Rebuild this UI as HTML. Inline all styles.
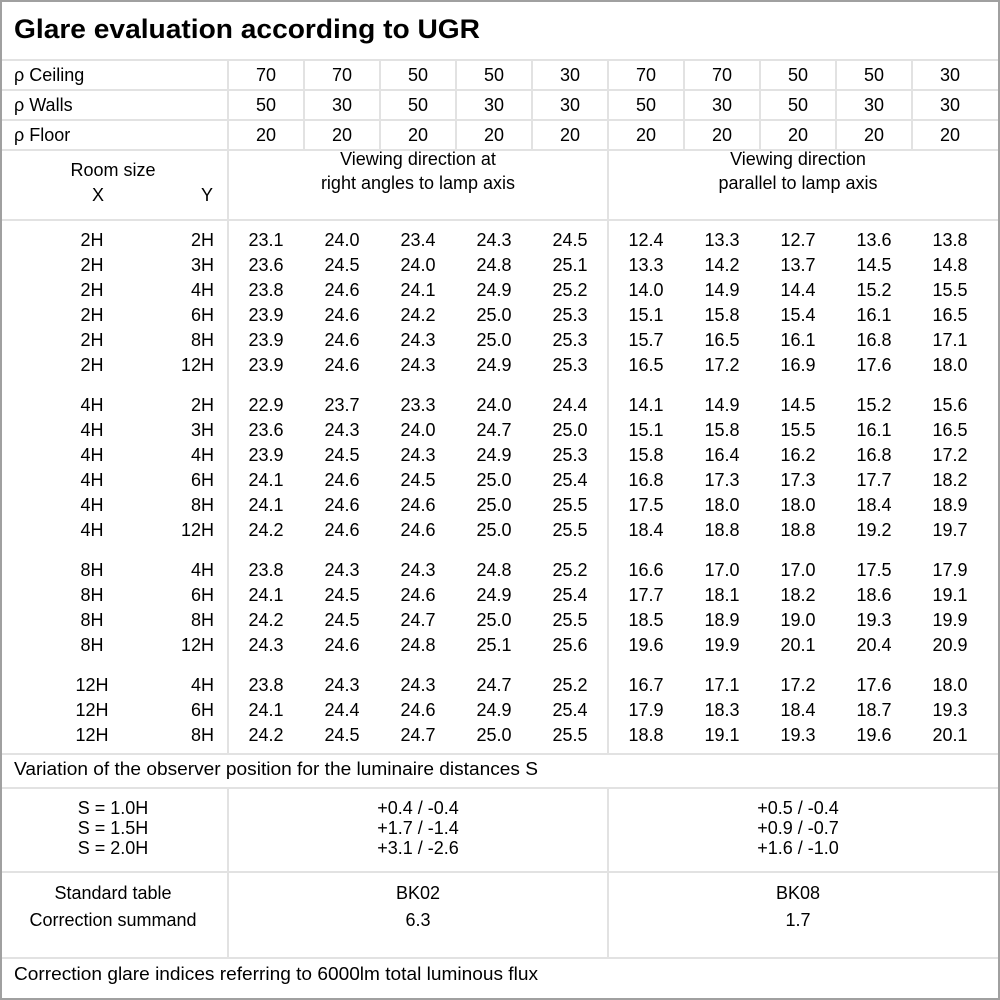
<!DOCTYPE html>
<html><head><meta charset="utf-8"><style>
html,body{margin:0;padding:0;background:#fff;width:1000px;height:1000px;overflow:hidden}
svg text{font-family:"Liberation Sans","DejaVu Sans",sans-serif;font-size:18px;fill:#000}
.c{text-anchor:middle}.r{text-anchor:end}
</style></head><body>
<svg width="1000" height="1000" xmlns="http://www.w3.org/2000/svg">
<rect x="0" y="0" width="1000" height="1000" fill="#fff"/>
<g stroke="#e2e2e2" stroke-width="2">
<line x1="0" y1="60" x2="1000" y2="60"/>
<line x1="0" y1="90" x2="1000" y2="90"/>
<line x1="0" y1="120" x2="1000" y2="120"/>
<line x1="0" y1="150" x2="1000" y2="150"/>
<line x1="0" y1="220" x2="1000" y2="220"/>
<line x1="0" y1="754" x2="1000" y2="754"/>
<line x1="0" y1="788" x2="1000" y2="788"/>
<line x1="0" y1="872" x2="1000" y2="872"/>
<line x1="0" y1="958" x2="1000" y2="958"/>
<line x1="228" y1="60" x2="228" y2="754"/>
<line x1="228" y1="788" x2="228" y2="958"/>
<line x1="608" y1="60" x2="608" y2="754"/>
<line x1="608" y1="788" x2="608" y2="958"/>
<line x1="304" y1="60" x2="304" y2="150"/>
<line x1="380" y1="60" x2="380" y2="150"/>
<line x1="456" y1="60" x2="456" y2="150"/>
<line x1="532" y1="60" x2="532" y2="150"/>
<line x1="684" y1="60" x2="684" y2="150"/>
<line x1="760" y1="60" x2="760" y2="150"/>
<line x1="836" y1="60" x2="836" y2="150"/>
<line x1="912" y1="60" x2="912" y2="150"/>
</g>
<rect x="1" y="1" width="998" height="998" fill="none" stroke="#a0a0a0" stroke-width="2"/>
<text x="14" y="38" style="font-size:27px;font-weight:bold" textLength="466" lengthAdjust="spacingAndGlyphs">Glare evaluation according to UGR</text>
<text x="14" y="81">ρ Ceiling</text>
<text x="14" y="111">ρ Walls</text>
<text x="14" y="141">ρ Floor</text>
<g class="c">
<text x="266" y="81">70</text><text x="342" y="81">70</text><text x="418" y="81">50</text><text x="494" y="81">50</text><text x="570" y="81">30</text><text x="646" y="81">70</text><text x="722" y="81">70</text><text x="798" y="81">50</text><text x="874" y="81">50</text><text x="950" y="81">30</text>
<text x="266" y="111">50</text><text x="342" y="111">30</text><text x="418" y="111">50</text><text x="494" y="111">30</text><text x="570" y="111">30</text><text x="646" y="111">50</text><text x="722" y="111">30</text><text x="798" y="111">50</text><text x="874" y="111">30</text><text x="950" y="111">30</text>
<text x="266" y="141">20</text><text x="342" y="141">20</text><text x="418" y="141">20</text><text x="494" y="141">20</text><text x="570" y="141">20</text><text x="646" y="141">20</text><text x="722" y="141">20</text><text x="798" y="141">20</text><text x="874" y="141">20</text><text x="950" y="141">20</text>
<text x="113" y="176">Room size</text>
<text x="98" y="201">X</text>
<text x="207" y="201">Y</text>
<text x="418" y="165">Viewing direction at</text>
<text x="418" y="189">right angles to lamp axis</text>
<text x="798" y="165">Viewing direction</text>
<text x="798" y="189">parallel to lamp axis</text>
</g>
<g>
<g class="c">
<text x="92" y="246">2H</text><text x="92" y="271">2H</text><text x="92" y="296">2H</text><text x="92" y="321">2H</text><text x="92" y="346">2H</text><text x="92" y="371">2H</text>
<text x="92" y="411">4H</text><text x="92" y="436">4H</text><text x="92" y="461">4H</text><text x="92" y="486">4H</text><text x="92" y="511">4H</text><text x="92" y="536">4H</text>
<text x="92" y="576">8H</text><text x="92" y="601">8H</text><text x="92" y="626">8H</text><text x="92" y="651">8H</text>
<text x="92" y="691">12H</text><text x="92" y="716">12H</text><text x="92" y="741">12H</text>
</g>
<g class="r">
<text x="214" y="246">2H</text><text x="214" y="271">3H</text><text x="214" y="296">4H</text><text x="214" y="321">6H</text><text x="214" y="346">8H</text><text x="214" y="371">12H</text>
<text x="214" y="411">2H</text><text x="214" y="436">3H</text><text x="214" y="461">4H</text><text x="214" y="486">6H</text><text x="214" y="511">8H</text><text x="214" y="536">12H</text>
<text x="214" y="576">4H</text><text x="214" y="601">6H</text><text x="214" y="626">8H</text><text x="214" y="651">12H</text>
<text x="214" y="691">4H</text><text x="214" y="716">6H</text><text x="214" y="741">8H</text>
</g>
<g class="c">
<text y="246"><tspan x="266">23.1</tspan><tspan x="342">24.0</tspan><tspan x="418">23.4</tspan><tspan x="494">24.3</tspan><tspan x="570">24.5</tspan><tspan x="646">12.4</tspan><tspan x="722">13.3</tspan><tspan x="798">12.7</tspan><tspan x="874">13.6</tspan><tspan x="950">13.8</tspan></text>
<text y="271"><tspan x="266">23.6</tspan><tspan x="342">24.5</tspan><tspan x="418">24.0</tspan><tspan x="494">24.8</tspan><tspan x="570">25.1</tspan><tspan x="646">13.3</tspan><tspan x="722">14.2</tspan><tspan x="798">13.7</tspan><tspan x="874">14.5</tspan><tspan x="950">14.8</tspan></text>
<text y="296"><tspan x="266">23.8</tspan><tspan x="342">24.6</tspan><tspan x="418">24.1</tspan><tspan x="494">24.9</tspan><tspan x="570">25.2</tspan><tspan x="646">14.0</tspan><tspan x="722">14.9</tspan><tspan x="798">14.4</tspan><tspan x="874">15.2</tspan><tspan x="950">15.5</tspan></text>
<text y="321"><tspan x="266">23.9</tspan><tspan x="342">24.6</tspan><tspan x="418">24.2</tspan><tspan x="494">25.0</tspan><tspan x="570">25.3</tspan><tspan x="646">15.1</tspan><tspan x="722">15.8</tspan><tspan x="798">15.4</tspan><tspan x="874">16.1</tspan><tspan x="950">16.5</tspan></text>
<text y="346"><tspan x="266">23.9</tspan><tspan x="342">24.6</tspan><tspan x="418">24.3</tspan><tspan x="494">25.0</tspan><tspan x="570">25.3</tspan><tspan x="646">15.7</tspan><tspan x="722">16.5</tspan><tspan x="798">16.1</tspan><tspan x="874">16.8</tspan><tspan x="950">17.1</tspan></text>
<text y="371"><tspan x="266">23.9</tspan><tspan x="342">24.6</tspan><tspan x="418">24.3</tspan><tspan x="494">24.9</tspan><tspan x="570">25.3</tspan><tspan x="646">16.5</tspan><tspan x="722">17.2</tspan><tspan x="798">16.9</tspan><tspan x="874">17.6</tspan><tspan x="950">18.0</tspan></text>
<text y="411"><tspan x="266">22.9</tspan><tspan x="342">23.7</tspan><tspan x="418">23.3</tspan><tspan x="494">24.0</tspan><tspan x="570">24.4</tspan><tspan x="646">14.1</tspan><tspan x="722">14.9</tspan><tspan x="798">14.5</tspan><tspan x="874">15.2</tspan><tspan x="950">15.6</tspan></text>
<text y="436"><tspan x="266">23.6</tspan><tspan x="342">24.3</tspan><tspan x="418">24.0</tspan><tspan x="494">24.7</tspan><tspan x="570">25.0</tspan><tspan x="646">15.1</tspan><tspan x="722">15.8</tspan><tspan x="798">15.5</tspan><tspan x="874">16.1</tspan><tspan x="950">16.5</tspan></text>
<text y="461"><tspan x="266">23.9</tspan><tspan x="342">24.5</tspan><tspan x="418">24.3</tspan><tspan x="494">24.9</tspan><tspan x="570">25.3</tspan><tspan x="646">15.8</tspan><tspan x="722">16.4</tspan><tspan x="798">16.2</tspan><tspan x="874">16.8</tspan><tspan x="950">17.2</tspan></text>
<text y="486"><tspan x="266">24.1</tspan><tspan x="342">24.6</tspan><tspan x="418">24.5</tspan><tspan x="494">25.0</tspan><tspan x="570">25.4</tspan><tspan x="646">16.8</tspan><tspan x="722">17.3</tspan><tspan x="798">17.3</tspan><tspan x="874">17.7</tspan><tspan x="950">18.2</tspan></text>
<text y="511"><tspan x="266">24.1</tspan><tspan x="342">24.6</tspan><tspan x="418">24.6</tspan><tspan x="494">25.0</tspan><tspan x="570">25.5</tspan><tspan x="646">17.5</tspan><tspan x="722">18.0</tspan><tspan x="798">18.0</tspan><tspan x="874">18.4</tspan><tspan x="950">18.9</tspan></text>
<text y="536"><tspan x="266">24.2</tspan><tspan x="342">24.6</tspan><tspan x="418">24.6</tspan><tspan x="494">25.0</tspan><tspan x="570">25.5</tspan><tspan x="646">18.4</tspan><tspan x="722">18.8</tspan><tspan x="798">18.8</tspan><tspan x="874">19.2</tspan><tspan x="950">19.7</tspan></text>
<text y="576"><tspan x="266">23.8</tspan><tspan x="342">24.3</tspan><tspan x="418">24.3</tspan><tspan x="494">24.8</tspan><tspan x="570">25.2</tspan><tspan x="646">16.6</tspan><tspan x="722">17.0</tspan><tspan x="798">17.0</tspan><tspan x="874">17.5</tspan><tspan x="950">17.9</tspan></text>
<text y="601"><tspan x="266">24.1</tspan><tspan x="342">24.5</tspan><tspan x="418">24.6</tspan><tspan x="494">24.9</tspan><tspan x="570">25.4</tspan><tspan x="646">17.7</tspan><tspan x="722">18.1</tspan><tspan x="798">18.2</tspan><tspan x="874">18.6</tspan><tspan x="950">19.1</tspan></text>
<text y="626"><tspan x="266">24.2</tspan><tspan x="342">24.5</tspan><tspan x="418">24.7</tspan><tspan x="494">25.0</tspan><tspan x="570">25.5</tspan><tspan x="646">18.5</tspan><tspan x="722">18.9</tspan><tspan x="798">19.0</tspan><tspan x="874">19.3</tspan><tspan x="950">19.9</tspan></text>
<text y="651"><tspan x="266">24.3</tspan><tspan x="342">24.6</tspan><tspan x="418">24.8</tspan><tspan x="494">25.1</tspan><tspan x="570">25.6</tspan><tspan x="646">19.6</tspan><tspan x="722">19.9</tspan><tspan x="798">20.1</tspan><tspan x="874">20.4</tspan><tspan x="950">20.9</tspan></text>
<text y="691"><tspan x="266">23.8</tspan><tspan x="342">24.3</tspan><tspan x="418">24.3</tspan><tspan x="494">24.7</tspan><tspan x="570">25.2</tspan><tspan x="646">16.7</tspan><tspan x="722">17.1</tspan><tspan x="798">17.2</tspan><tspan x="874">17.6</tspan><tspan x="950">18.0</tspan></text>
<text y="716"><tspan x="266">24.1</tspan><tspan x="342">24.4</tspan><tspan x="418">24.6</tspan><tspan x="494">24.9</tspan><tspan x="570">25.4</tspan><tspan x="646">17.9</tspan><tspan x="722">18.3</tspan><tspan x="798">18.4</tspan><tspan x="874">18.7</tspan><tspan x="950">19.3</tspan></text>
<text y="741"><tspan x="266">24.2</tspan><tspan x="342">24.5</tspan><tspan x="418">24.7</tspan><tspan x="494">25.0</tspan><tspan x="570">25.5</tspan><tspan x="646">18.8</tspan><tspan x="722">19.1</tspan><tspan x="798">19.3</tspan><tspan x="874">19.6</tspan><tspan x="950">20.1</tspan></text>
</g>
</g>
<text x="14" y="775" textLength="524" lengthAdjust="spacingAndGlyphs">Variation of the observer position for the luminaire distances S</text>
<g class="c">
<text x="113" y="814">S = 1.0H</text>
<text x="113" y="834">S = 1.5H</text>
<text x="113" y="854">S = 2.0H</text>
<text x="418" y="814">+0.4 / -0.4</text>
<text x="418" y="834">+1.7 / -1.4</text>
<text x="418" y="854">+3.1 / -2.6</text>
<text x="798" y="814">+0.5 / -0.4</text>
<text x="798" y="834">+0.9 / -0.7</text>
<text x="798" y="854">+1.6 / -1.0</text>
<text x="113" y="899">Standard table</text>
<text x="113" y="926">Correction summand</text>
<text x="418" y="899">BK02</text>
<text x="418" y="926">6.3</text>
<text x="798" y="899">BK08</text>
<text x="798" y="926">1.7</text>
</g>
<text x="14" y="980" textLength="524" lengthAdjust="spacingAndGlyphs">Correction glare indices referring to 6000lm total luminous flux</text>
</svg>
</body></html>
